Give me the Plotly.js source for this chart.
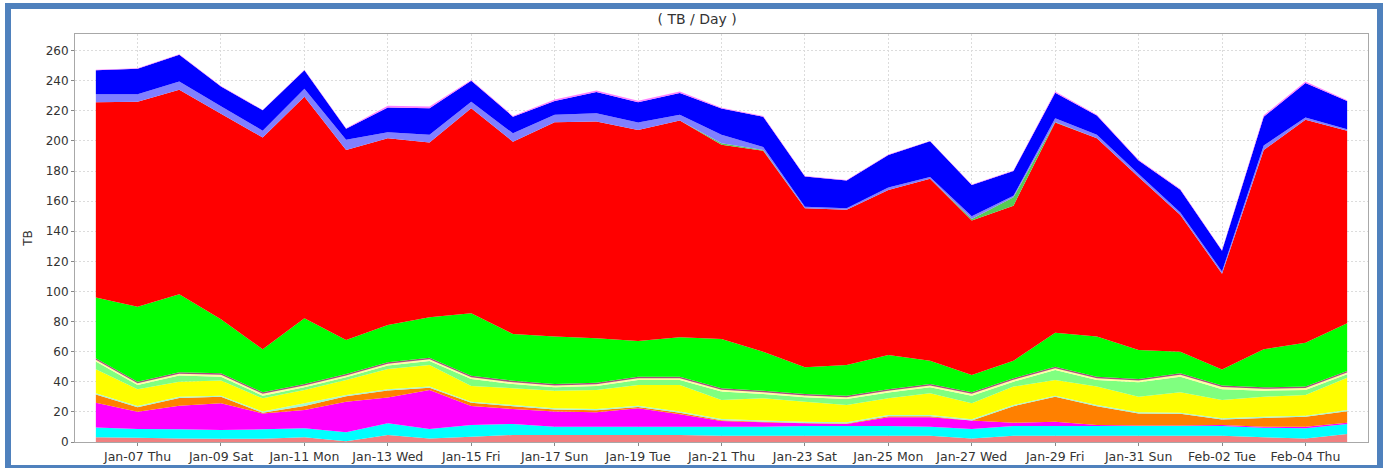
<!DOCTYPE html>
<html>
<head>
<meta charset="utf-8">
<script src="https://cdn.plot.ly/plotly-3.0.1.min.js"></script>
<style>
  html, body { margin: 0; padding: 0; background: #ffffff; }
  #wrap { position: relative; width: 1386px; height: 468px; overflow: hidden; }
  #chart { position: absolute; left: 0; top: 0; width: 1386px; height: 468px; }
  #frame { position: absolute; left: 5px; top: 3px; width: 1366px; height: 456px;
           border: 6px solid #4F81BD; pointer-events: none; }
</style>
</head>
<body>
<div id="wrap"><div id="chart"></div><div id="frame"></div></div>
<script>
const dates = ['2010-01-06','2010-01-07','2010-01-08','2010-01-09','2010-01-10','2010-01-11','2010-01-12',
  '2010-01-13','2010-01-14','2010-01-15','2010-01-16','2010-01-17','2010-01-18','2010-01-19','2010-01-20',
  '2010-01-21','2010-01-22','2010-01-23','2010-01-24','2010-01-25','2010-01-26','2010-01-27','2010-01-28',
  '2010-01-29','2010-01-30','2010-01-31','2010-02-01','2010-02-02','2010-02-03','2010-02-04','2010-02-05'];

const tickVals = ['2010-01-07','2010-01-09','2010-01-11','2010-01-13','2010-01-15','2010-01-17','2010-01-19',
  '2010-01-21','2010-01-23','2010-01-25','2010-01-27','2010-01-29','2010-01-31','2010-02-02','2010-02-04'];
const tickText = ['Jan-07 Thu','Jan-09 Sat','Jan-11 Mon','Jan-13 Wed','Jan-15 Fri','Jan-17 Sun','Jan-19 Tue',
  'Jan-21 Thu','Jan-23 Sat','Jan-25 Mon','Jan-27 Wed','Jan-29 Fri','Jan-31 Sun','Feb-02 Tue','Feb-04 Thu'];

// stacked layers, bottom to top
const salmon     = [3.1,2.9,2.4,2.2,2.2,3.1,0.5,4.7,2.4,3.5,4.7,4.7,4.7,4.7,4.7,4.2,4.2,4.2,4.2,4.2,4.2,2.4,4.2,4.2,4.2,4.2,4.2,4.2,3.1,2.4,5.3];
const cyan       = [6.6,5.7,6.0,5.8,6.2,6.0,5.9,7.7,6.2,7.8,7.3,5.5,5.5,5.5,5.5,6.0,6.0,6.4,6.4,6.4,6.0,6.2,6.4,6.4,6.4,6.4,6.4,6.4,6.4,6.7,6.7];
const magenta    = [16.4,11.5,15.7,17.7,10.6,12.2,20.4,17.1,26.0,12.6,9.9,10.0,9.5,12.2,8.2,3.8,2.9,1.8,1.4,5.8,6.2,5.6,2.2,2.9,0.7,0.3,0.3,0.7,0.7,1.1,0.8];
const orange     = [5.4,3.0,5.2,4.3,0.4,2.6,3.6,4.7,1.4,2.1,1.9,1.4,1.4,0.9,1.0,0.5,0.3,0.3,0.3,0.7,0.7,0.1,11.0,16.5,12.5,8.0,7.8,3.6,5.8,6.5,7.7];
const paleCyan   = [0.8,0.8,0.8,0.8,0.8,1.8,0.8,0.8,0.8,0.8,0.8,0.8,0.8,0.8,0.8,0.8,0.8,0.8,0.8,0.8,0.8,0.8,0.8,0.8,0.8,0.8,0.8,0.8,0.8,0.8,0.8];
const yellow     = [16.0,11.1,9.9,10.0,8.8,8.9,10.0,13.5,14.4,10.4,11.1,11.7,12.7,13.8,17.7,12.6,14.8,13.3,11.5,11.1,14.4,10.6,12.2,10.4,12.2,10.4,13.5,12.2,13.3,13.7,21.4];
const lightGreen = [5.1,2.8,4.1,2.6,1.8,1.7,1.8,2.3,2.6,4.6,2.8,2.2,2.6,3.3,3.3,5.6,2.9,2.9,4.0,3.8,4.0,5.1,3.3,6.6,4.4,9.6,10.4,7.1,4.0,3.4,2.3];
const paleYellow = [1.2,1.2,1.2,1.2,1.2,1.2,1.2,1.2,1.2,1.2,1.2,1.2,1.2,1.2,1.2,1.2,1.2,1.2,1.2,1.2,1.2,1.2,1.2,1.2,1.2,1.2,1.2,1.5,1.2,1.2,1.2];
const mauve      = [1.0,1.0,1.0,1.0,1.0,1.0,1.0,1.0,1.0,1.0,1.0,1.0,1.0,1.0,1.0,1.0,1.0,1.0,1.0,1.0,1.0,1.0,1.0,1.0,1.0,1.0,1.0,1.0,1.0,1.0,1.0];
const green      = [40.3,49.9,51.8,35.9,28.6,43.7,22.6,24.7,26.8,41.5,31.1,31.5,29.5,23.7,26.2,32.7,25.9,17.7,20.4,22.8,15.5,11.5,11.7,22.6,26.6,19.2,14.4,10.6,25.3,29.2,31.7];
const red        = [129.8,136.1,135.8,136.5,140.6,147.2,126.2,124.1,116.1,136.2,127.7,142.4,143.9,140.2,143.9,129.1,133.5,105.7,103.0,109.6,120.8,102.7,103.0,139.6,131.8,114.9,90.8,63.7,132.4,148.0,127.9];
const midGreen   = [0,0,0,0,0,0,0,0,0,0,0,0,0,0,0,1.0,0.5,0,0,0,0,1.0,5.5,0.3,0,0,0,0,0,0,0];
const lightBlue  = [5.3,5.0,5.5,5.0,4.6,5.2,6.7,4.0,5.1,4.3,5.5,4.9,5.6,4.9,3.8,5.5,2.0,1.0,1.1,1.6,1.2,1.8,1.0,2.5,2.2,2.0,1.7,1.5,2.9,1.5,1.0];
const blue       = [15.9,17.0,17.9,13.2,13.5,12.3,7.4,16.3,17.6,14.0,11.1,9.2,14.0,13.4,14.5,17.5,20.1,20.1,18.4,21.7,23.7,20.7,16.5,17.0,12.8,8.9,15.0,13.7,19.1,22.9,18.7];
const pink       = [0.3,0.3,0.3,0.3,0.3,0.3,0.3,1.2,1.2,0.5,0.5,1.0,1.0,1.0,1.0,0.5,0.5,0.3,0.3,0.3,0.3,0.3,0.3,0.8,0.5,0.5,0.5,0.3,1.0,1.0,0.5];

const layers = [
  ['salmon', salmon, '#F08080'],
  ['cyan', cyan, '#00FFFF'],
  ['magenta', magenta, '#FF00FF'],
  ['orange', orange, '#FF8000'],
  ['paleCyan', paleCyan, '#A8F8D0'],
  ['yellow', yellow, '#FFFF00'],
  ['lightGreen', lightGreen, '#80FF80'],
  ['paleYellow', paleYellow, '#FFFFA0'],
  ['mauve', mauve, '#A8507C'],
  ['green', green, '#00FF00'],
  ['red', red, '#FF0000'],
  ['midGreen', midGreen, '#55CC55'],
  ['lightBlue', lightBlue, '#8080FF'],
  ['blue', blue, '#0000FF'],
  ['pink', pink, '#FF80FF']
];

const traces = layers.map(([name, vals, col]) => ({
  type: 'scatter', mode: 'none', x: dates, y: vals, name: name,
  stackgroup: 'one', fill: 'tonexty', fillcolor: col, hoverinfo: 'skip'
}));

const font = 'DejaVu Sans, Arial, sans-serif';
const layout = {
  width: 1386, height: 468,
  margin: {l: 75, r: 18, t: 34, b: 26, pad: 0},
  paper_bgcolor: '#ffffff', plot_bgcolor: '#ffffff',
  showlegend: false,
  font: {family: font, size: 12, color: '#333333'},
  title: {text: '( TB / Day )', x: 0.503, xref: 'container', y: 0.96, yref: 'container', yanchor: 'middle',
          font: {family: font, size: 14, color: '#333333'}},
  xaxis: {
    type: 'date', range: ['2010-01-05 12:00', '2010-02-05 12:00'],
    tickmode: 'array', tickvals: tickVals, ticktext: tickText,
    showgrid: true, gridcolor: '#DCDCDC', griddash: '2px,2px', gridwidth: 1,
    showline: true, linecolor: '#A8A8A8', linewidth: 1, mirror: true,
    ticks: 'outside', ticklen: 3, tickcolor: '#888888',
    tickfont: {family: font, size: 12.5, color: '#333333'}, zeroline: false
  },
  yaxis: {
    range: [0, 271], tickmode: 'linear', tick0: 0, dtick: 20,
    showgrid: true, gridcolor: '#DCDCDC', griddash: '2px,2px', gridwidth: 1,
    showline: true, linecolor: '#A8A8A8', linewidth: 1, mirror: true,
    ticks: 'outside', ticklen: 3, tickcolor: '#888888',
    tickfont: {family: font, size: 12, color: '#333333'}, zeroline: false,
    title: {text: 'TB', font: {family: font, size: 12, color: '#333333'}, standoff: 10}
  }
};

Plotly.newPlot('chart', traces, layout, {displayModeBar: false, staticPlot: true});
</script>
</body>
</html>
